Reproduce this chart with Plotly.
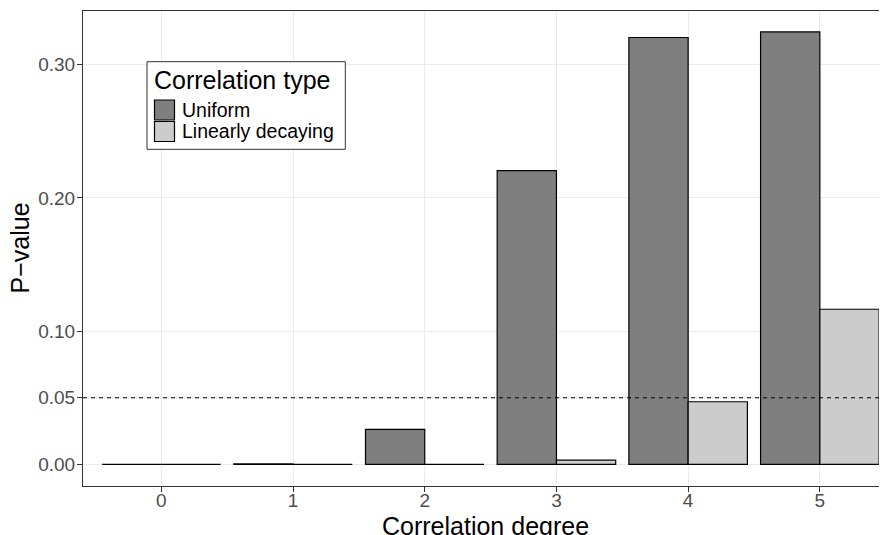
import plotly.graph_objects as go

# ---- data ----
degrees = [0, 1, 2, 3, 4, 5]
uniform_p = [0.0, 0.0004, 0.0263, 0.2205, 0.3203, 0.3245]
linear_p = [0.0, 0.0, 0.0, 0.0032, 0.0470, 0.1164]
series_names = ["Uniform", "Linearly decaying"]
y_tick_vals = [0.0, 0.05, 0.10, 0.20, 0.30]
y_tick_text = ["0.00", "0.05", "0.10", "0.20", "0.30"]
threshold = 0.05
x_title = "Correlation degree"
y_title = "P\u2212value"
legend_title = "Correlation type"

# the page body has an 8px margin, so the figure is sized to fit the window
OFF = 8
W, H = 887 - OFF, 535 - OFF
ML, MT, MB, MR = 83 - OFF, 11 - OFF, 49, 0
PW, PH = W - ML - MR, H - MT - MB

FONT = "Liberation Sans, Arial, Helvetica, sans-serif"
fill_colors = ["#7f7f7f", "#cccccc"]

fig = go.Figure()
for name, vals, col in zip(series_names, [uniform_p, linear_p], fill_colors):
    fig.add_trace(go.Bar(
        x=degrees, y=vals, name=name,
        marker=dict(color=col, line=dict(color="black", width=1.2)),
        showlegend=False,
    ))

# manual ggplot-style legend (window pixel -> paper helpers)
def px(x):
    return (x - OFF - ML) / PW

def py(y):
    return (H - MB - (y - OFF)) / PH

shapes = [
    dict(type="rect", xref="paper", yref="paper",
         x0=px(147), x1=px(345.3), y0=py(149.3), y1=py(61.7),
         line=dict(color="#333333", width=1), fillcolor="white", layer="above"),
]
key_tops = [100, 121.5]
for col, kt in zip(fill_colors, key_tops):
    shapes.append(dict(type="rect", xref="paper", yref="paper",
                       x0=px(154.5), x1=px(174.5), y0=py(kt + 20), y1=py(kt),
                       line=dict(color="black", width=1.2), fillcolor=col, layer="above"))
annotations = [
    dict(text=legend_title, xref="paper", yref="paper",
         x=px(152), y=py(80), xanchor="left", yanchor="middle",
         showarrow=False, font=dict(family=FONT, size=25, color="black")),
    dict(text=x_title, xref="paper", yref="paper",
         x=0.5, y=py(526), xanchor="center", yanchor="middle",
         showarrow=False, font=dict(family=FONT, size=25, color="black")),
    dict(text=y_title, xref="paper", yref="paper", textangle=-90,
         x=px(19), y=0.5, xanchor="center", yanchor="middle",
         showarrow=False, font=dict(family=FONT, size=25, color="black")),
]
for name, kt in zip(series_names, key_tops):
    annotations.append(dict(text=name, xref="paper", yref="paper",
                            x=px(180), y=py(kt + 10), xanchor="left", yanchor="middle",
                            showarrow=False, font=dict(family=FONT, size=19.5, color="black")))

fig.update_layout(
    width=W, height=H,
    margin=dict(l=ML, r=MR, t=MT, b=MB, pad=0, autoexpand=False),
    paper_bgcolor="white", plot_bgcolor="white",
    barmode="group", bargap=0.1, bargroupgap=0,
    font=dict(family=FONT),
    shapes=shapes, annotations=annotations,
    xaxis=dict(
        range=[-0.595, 5.51], tickmode="array", tickvals=degrees,
        ticktext=[str(d) for d in degrees], automargin=False,
        showgrid=True, gridcolor="#ebebeb", gridwidth=1,
        showline=True, linecolor="#333333", linewidth=1, mirror=True,
        ticks="outside", ticklen=5, tickcolor="#333333", tickwidth=1,
        ticklabelstandoff=-8,
        tickfont=dict(family=FONT, size=19, color="#4d4d4d"),
        zeroline=False,
    ),
    yaxis=dict(
        range=[-0.0162, 0.3402], tickmode="array", tickvals=y_tick_vals, ticktext=y_tick_text,
        automargin=False,
        showgrid=True, gridcolor="#ebebeb", gridwidth=1,
        showline=True, linecolor="#333333", linewidth=1,
        ticks="outside", ticklen=5, tickcolor="#333333", tickwidth=1,
        ticklabelstandoff=-2,
        tickfont=dict(family=FONT, size=19, color="#4d4d4d"),
        zeroline=False,
    ),
)

fig.add_hline(y=threshold, line=dict(color="black", width=1, dash="4px,4px"))

fig.write_html("out.html")
